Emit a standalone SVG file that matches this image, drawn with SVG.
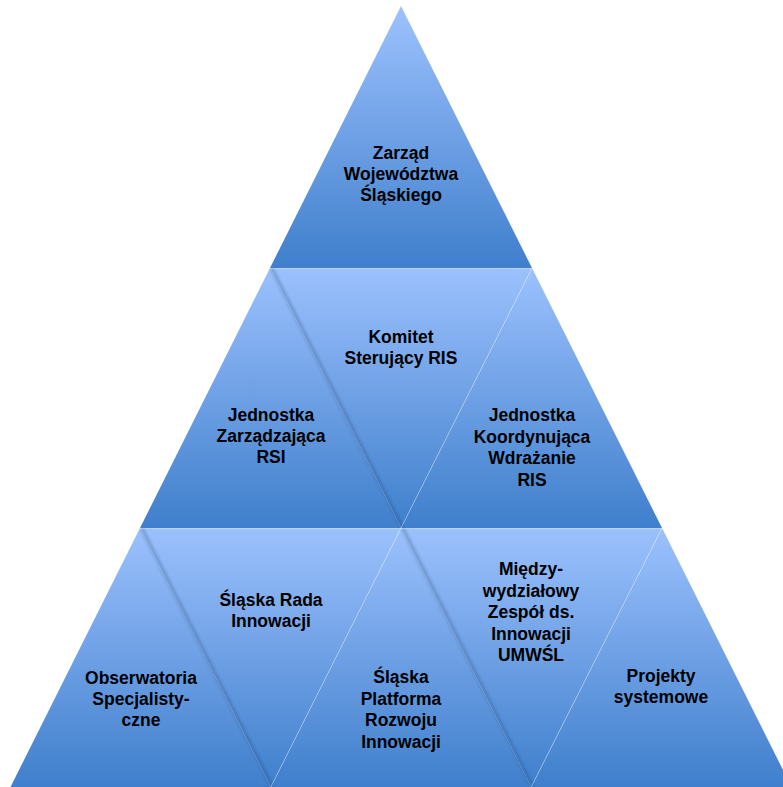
<svg xmlns="http://www.w3.org/2000/svg" width="783" height="787" viewBox="0 0 783 787">
<style>
text{font-family:"Liberation Sans",Arial,sans-serif;font-weight:bold;font-size:17.5px;fill:#000;text-anchor:middle}
.sh{stroke:#1d3d70;stroke-opacity:0.32;stroke-width:3;fill:none;filter:url(#blur)}
.hl{stroke:#ffffff;stroke-opacity:0.3;stroke-width:1;fill:none}
</style>
<defs>
<linearGradient id="g1" gradientUnits="userSpaceOnUse" x1="0" y1="6" x2="0" y2="268"><stop offset="0" stop-color="#9dc2fe"/><stop offset="1" stop-color="#3f7fcc"/></linearGradient>
<linearGradient id="g2" gradientUnits="userSpaceOnUse" x1="0" y1="268" x2="0" y2="528"><stop offset="0" stop-color="#9cc1fd"/><stop offset="1" stop-color="#3f7fcc"/></linearGradient>
<linearGradient id="g3" gradientUnits="userSpaceOnUse" x1="0" y1="528" x2="0" y2="787"><stop offset="0" stop-color="#9cc1fd"/><stop offset="1" stop-color="#3f7fcc"/></linearGradient>
<filter id="blur" x="-20%" y="-20%" width="140%" height="140%"><feGaussianBlur stdDeviation="1.5"/></filter>
<clipPath id="c2"><polygon points="270,268 532,268 662,528 140,528"/></clipPath>
<clipPath id="c3"><polygon points="140,528 662,528 791.5,787 10.5,787"/></clipPath>
</defs>

<g id="n-zarzad">
<polygon points="401,6 532,268 270,268" fill="url(#g1)"/>
<text x="401" y="159">Zarząd</text>
<text x="401" y="180">Województwa</text>
<text x="401" y="201">Śląskiego</text>
</g>

<g id="n-jz-rsi">
<polygon points="270,268 401,528 140,528" fill="url(#g2)"/>
<text x="271" y="421">Jednostka</text>
<text x="271" y="442">Zarządzająca</text>
<text x="271" y="463">RSI</text>
</g>
<g id="n-komitet">
<polygon points="270,268 532,268 401,528" fill="url(#g2)"/>
<text x="401" y="342.5">Komitet</text>
<text x="401" y="363.5">Sterujący RIS</text>
</g>
<g id="n-jkw-ris">
<polygon points="532,268 662,528 401,528" fill="url(#g2)"/>
<text x="532" y="421">Jednostka</text>
<text x="532" y="442.5">Koordynująca</text>
<text x="532" y="464">Wdrażanie</text>
<text x="532" y="485.5">RIS</text>
</g>

<g id="n-obserwatoria">
<polygon points="140,528 270.8,787 10.5,787" fill="url(#g3)"/>
<text x="141" y="684">Obserwatoria</text>
<text x="141" y="705">Specjalisty-</text>
<text x="141" y="726">czne</text>
</g>
<g id="n-rada">
<polygon points="140,528 401,528 270.8,787" fill="url(#g3)"/>
<text x="271" y="606">Śląska Rada</text>
<text x="271" y="627">Innowacji</text>
</g>
<g id="n-platforma">
<polygon points="401,528 531.2,787 270.8,787" fill="url(#g3)"/>
<text x="401" y="683">Śląska</text>
<text x="401" y="704.5">Platforma</text>
<text x="401" y="726">Rozwoju</text>
<text x="401" y="747.5">Innowacji</text>
</g>
<g id="n-zespol">
<polygon points="401,528 662,528 531.2,787" fill="url(#g3)"/>
<text x="531" y="575">Między-</text>
<text x="531" y="596.5">wydziałowy</text>
<text x="531" y="618">Zespół ds.</text>
<text x="531" y="639.5">Innowacji</text>
<text x="531" y="661">UMWŚL</text>
</g>
<g id="n-projekty">
<polygon points="662,528 791.5,787 531.2,787" fill="url(#g3)"/>
<text x="661" y="682">Projekty</text>
<text x="661" y="703">systemowe</text>
</g>

<g id="connectors">
<g clip-path="url(#c2)">
<line class="sh" x1="271.5" y1="268" x2="402.5" y2="528"/>
<line class="hl" x1="532" y1="268" x2="401" y2="528"/>
</g>
<g clip-path="url(#c3)">
<line class="sh" x1="141.5" y1="528" x2="272.3" y2="787"/>
<line class="sh" x1="402.5" y1="528" x2="532.7" y2="787"/>
<line class="hl" x1="401" y1="528" x2="270.8" y2="787"/>
<line class="hl" x1="662" y1="528" x2="531.2" y2="787"/>
</g>
<line class="hl" x1="270" y1="268.5" x2="532" y2="268.5"/>
<line class="hl" x1="140" y1="528.5" x2="662" y2="528.5"/>
</g>
</svg>
